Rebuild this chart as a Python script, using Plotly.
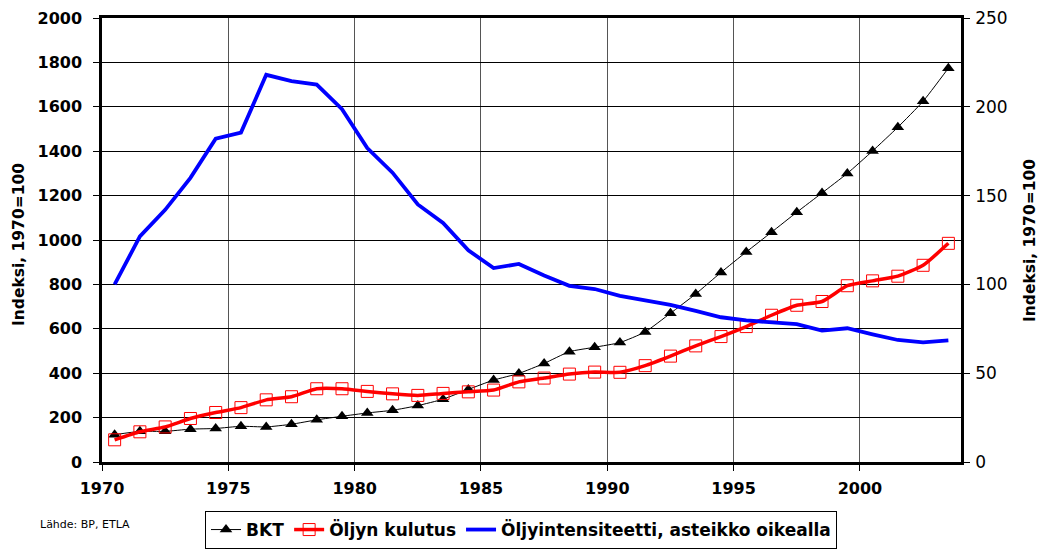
import plotly.graph_objects as go

years = list(range(1970, 2004))
bkt = [123, 138, 138, 148, 151, 161, 158, 170, 190, 206, 221, 233, 254, 283, 327, 369, 399,
       444, 497, 517, 538, 586, 670, 757, 854, 946, 1035, 1125, 1212, 1300, 1401, 1508, 1625, 1774]
oljy = [100, 136, 158, 196, 223, 245, 280, 294, 330, 330, 318, 307, 300, 309, 316, 324, 361,
        378, 396, 405, 404, 434, 477, 523, 565, 610, 661, 706, 723, 794, 816, 837, 886, 985]
intens = [100, 127, 142, 160, 182, 185.5, 218, 214.5, 212.5, 198.7, 176.8, 162.9, 145, 134.6, 119.2, 109.2, 111.5,
          105, 99.2, 97.4, 93.6, 91.3, 88.5, 85.1, 81.5, 79.7, 78.9, 77.6, 74, 75.3, 71.9, 68.7, 67.4, 68.5]
xtick_vals = [1970, 1975, 1980, 1985, 1990, 1995, 2000]
y1_ticks = list(range(0, 2001, 200))
y2_ticks = list(range(0, 251, 50))

xpos = [y + 0.5 for y in years]
FONT = "DejaVu Sans, sans-serif"
W, H = 1044, 551

fig = go.Figure()
fig.add_trace(go.Scatter(x=xpos, y=bkt, name="<b>BKT</b>", mode="lines+markers",
                         line=dict(color="black", width=1, shape="spline", smoothing=0.5),
                         marker=dict(symbol="triangle-up", size=11, color="black")))
fig.add_trace(go.Scatter(x=xpos, y=oljy, name="<b>Öljyn kulutus</b>", mode="lines+markers",
                         line=dict(color="#ff0000", width=3.5, shape="spline", smoothing=0.5),
                         marker=dict(symbol="square-open", size=12, color="#ff0000",
                                     line=dict(width=1, color="#ff0000"))))
fig.add_trace(go.Scatter(x=xpos, y=intens, name="<b>Öljyintensiteetti, asteikko oikealla</b>", mode="lines",
                         yaxis="y2", line=dict(color="#0000ff", width=3.8)))

fig.update_layout(
    width=W, height=H, autosize=False,
    margin=dict(l=102, r=83, t=18, b=89, autoexpand=False),
    paper_bgcolor="white", plot_bgcolor="white",
    font=dict(family=FONT, color="black"),
    xaxis=dict(range=[1970, 2004], tickvals=xtick_vals, ticktext=[f"<b>{v}</b>" for v in xtick_vals],
               showgrid=True, gridcolor="#555555", gridwidth=1, zeroline=False,
               showline=True, linecolor="black", linewidth=2.5, mirror=True,
               ticks="outside", ticklen=6, tickcolor="black", automargin=False,
               ticklabelstandoff=4,
               tickfont=dict(family=FONT, size=16, color="black")),
    yaxis=dict(range=[0, 2000], tickvals=y1_ticks, ticktext=[f"<b>{v}</b>" for v in y1_ticks],
               showgrid=True, gridcolor="black", gridwidth=1,
               zeroline=False, showline=True, linecolor="black", linewidth=2.5,
               ticks="outside", ticklen=6, tickcolor="black", automargin=False,
               ticklabelstandoff=8,
               tickfont=dict(family=FONT, size=16, color="black")),
    yaxis2=dict(range=[0, 250], tickvals=y2_ticks, overlaying="y", side="right", showgrid=False,
                zeroline=False, showline=True, linecolor="black", linewidth=2.5,
                ticks="outside", ticklen=6, tickcolor="black", automargin=False,
                ticklabelstandoff=2,
                tickfont=dict(family=FONT, size=17, color="black")),
    showlegend=True,
    legend=dict(orientation="h", x=205 / W, y=(H - 549) / H, xref="container", yref="container",
                xanchor="left", yanchor="bottom",
                bordercolor="black", borderwidth=1, bgcolor="white",
                font=dict(family=FONT, size=17, color="black"),
                itemwidth=30, tracegroupgap=0),
    annotations=[
        dict(text="Lähde: BP, ETLA", x=38, y=524, xref="paper", yref="paper",
             xanchor="left", yanchor="middle", showarrow=False,
             font=dict(family=FONT, size=11, color="black")),
        dict(text="<b>Indeksi, 1970=100</b>", x=19, y=245, xref="paper", yref="paper",
             xanchor="center", yanchor="middle",
             showarrow=False, textangle=-90, font=dict(family=FONT, size=15.5, color="black")),
        dict(text="<b>Indeksi, 1970=100</b>", x=1030, y=241, xref="paper", yref="paper",
             xanchor="center", yanchor="middle",
             showarrow=False, textangle=-90, font=dict(family=FONT, size=15.5, color="black")),
    ],
)

# convert pixel positions of the annotations to paper coordinates
pw, ph = W - 102 - 83, H - 18 - 89
anns = list(fig.layout.annotations)
for a in anns:
    a.x = (a.x - 102) / pw
    a.y = (462 - a.y) / ph
fig.layout.annotations = anns

fig.write_html("out.html", config={"displayModeBar": False},
               post_script="document.body.style.margin='0';document.body.style.overflow='hidden';")
